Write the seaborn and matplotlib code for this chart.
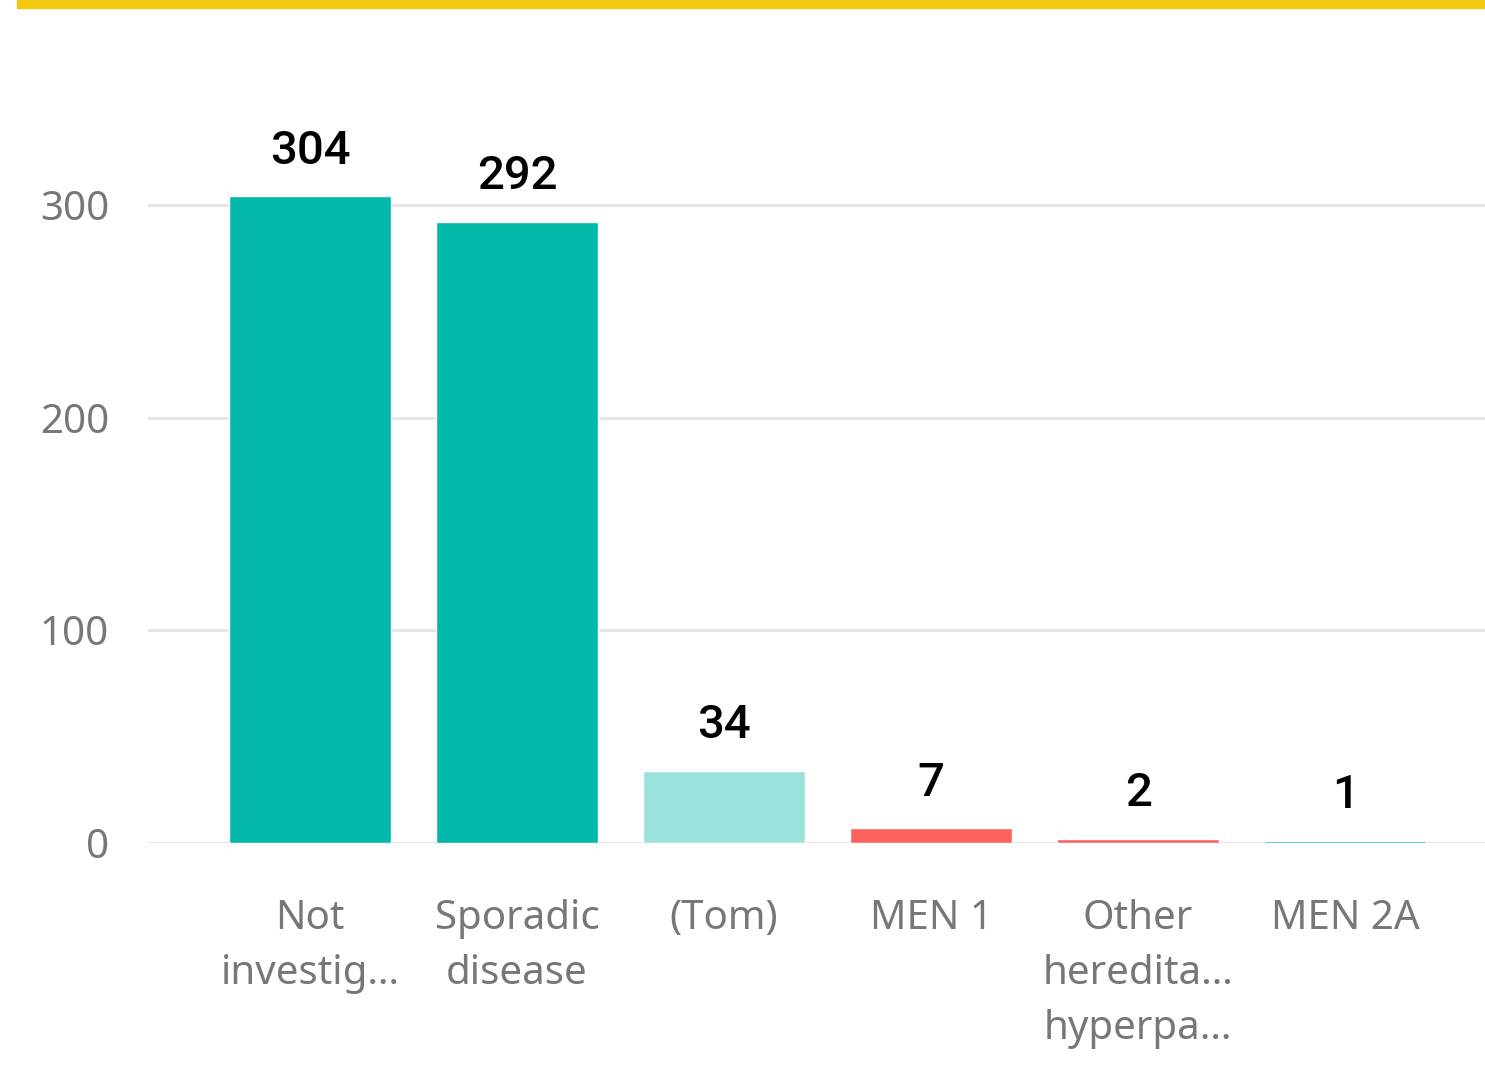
import matplotlib
matplotlib.use("Agg")
import matplotlib.pyplot as plt
import seaborn as sns
import pandas as pd

# datos del gráfico
categories = ["Not\ninvestig…", "Sporadic\ndisease", "(Tom)", "MEN 1",
              "Other\nheredita…\nhyperpa…", "MEN 2A"]
values = [304, 292, 34, 7, 2, 1]
bar_colors = ["#01B8AA", "#01B8AA", "#9AE3DC", "#FD625E", "#FD625E", "#01B8AA"]
y_ticks = [0, 100, 200, 300]

df = pd.DataFrame({"cat": categories, "val": values})

sns.set_style("white")
plt.rcParams["font.family"] = ["Noto Sans", "DejaVu Sans"]

fig = plt.figure(figsize=(14.85, 10.67), dpi=100)
ax = fig.add_axes([148 / 1485, (1067 - 843) / 1067, 1 - 148 / 1485, (843 - 100) / 1067])

sns.barplot(data=df, x="cat", y="val", hue="cat", palette=bar_colors,
            legend=False, width=0.78, saturation=1, ax=ax, zorder=3)

ax.set_xlim(-0.783, 5.676)
ax.set_ylim(0, (843 - 100) / (638 / 300))
ax.set_yticks(y_ticks)
ax.grid(axis="y", color="#E6E6E6", linewidth=2.2, zorder=0)
ax.set_axisbelow(True)
for s in ax.spines.values():
    s.set_visible(False)
ax.set_xlabel("")
ax.set_ylabel("")
ax.tick_params(axis="y", length=0, pad=28, labelsize=29, labelcolor="#777777")
ax.tick_params(axis="x", length=0, pad=40, labelsize=29, labelcolor="#777777")
for lbl in ax.get_xticklabels():
    lbl.set_linespacing(1.5)

# etiquetas de valor
for i, v in enumerate(values):
    ax.annotate(str(v), xy=(i, v), xytext=(0, 17), textcoords="offset points",
                ha="center", va="bottom", fontsize=34, color="black",
                family="Roboto", fontweight="medium")

# barra amarilla superior
fig.patches.append(plt.Rectangle((17 / 1485, 1 - 8 / 1067), 1 - 17 / 1485, 8 / 1067,
                                 transform=fig.transFigure, color="#F2C811"))

fig.savefig("out.png", dpi=100)
